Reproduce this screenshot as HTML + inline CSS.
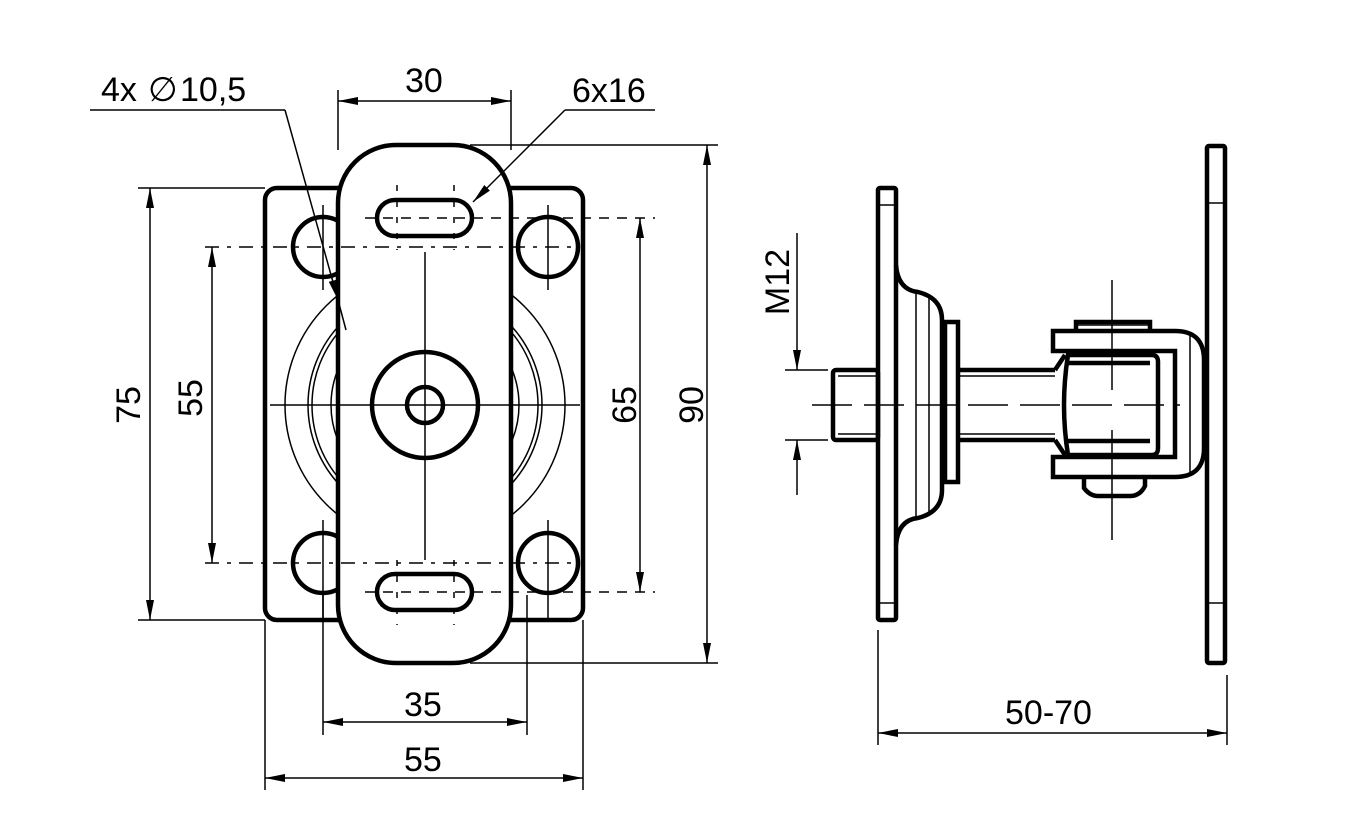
<!DOCTYPE html>
<html><head><meta charset="utf-8"><style>
html,body{margin:0;padding:0;background:#fff}
svg{display:block}
text{font-family:"Liberation Sans","DejaVu Sans",sans-serif;font-size:34px;fill:#000}
</style></head><body>
<svg width="1350" height="827" viewBox="0 0 1350 827" xmlns="http://www.w3.org/2000/svg">
<defs>
<marker id="a" viewBox="0 0 20 8" refX="20" refY="4" markerWidth="20" markerHeight="8" markerUnits="userSpaceOnUse" orient="auto-start-reverse"><path d="M0,0 L20,4 L0,8 z" fill="#000"/></marker>
</defs>
<g fill="none" stroke="#000">
<!-- LEFT VIEW -->
<!-- large circles behind -->
<g stroke-width="1.5">
<circle cx="425" cy="405" r="140"/>
<circle cx="425" cy="405" r="117"/>
<circle cx="425" cy="405" r="113"/>
<circle cx="425" cy="405" r="94"/>
</g>
<!-- base plate -->
<rect x="265" y="188" width="318" height="432" rx="12" fill="none" stroke-width="4.5"/>
<!-- holes -->
<g stroke-width="4.5" fill="#fff">
<circle cx="323" cy="247" r="30"/><circle cx="548" cy="247" r="30"/>
<circle cx="323" cy="563" r="30"/><circle cx="548" cy="563" r="30"/>
</g>
<!-- hole centerlines -->
<g stroke-width="1.5">
<line x1="323" y1="205" x2="323" y2="290"/><line x1="548" y1="205" x2="548" y2="290"/>
<line x1="323" y1="520" x2="323" y2="620"/><line x1="548" y1="520" x2="548" y2="620"/>
</g>
<!-- slot plate -->
<rect x="338" y="145" width="173" height="518" rx="58" fill="#fff" stroke-width="4.5"/>
<!-- slots -->
<rect x="377" y="200" width="95" height="36" rx="18" stroke-width="4.5"/>
<rect x="377" y="574" width="95" height="36" rx="18" stroke-width="4.5"/>
<!-- center circles -->
<circle cx="425" cy="405" r="53" stroke-width="4.5"/>
<circle cx="425" cy="405" r="18" stroke-width="4.5"/>
<!-- centerlines -->
<g stroke-width="1.5">
<line x1="270" y1="405" x2="580" y2="405"/>
<line x1="425" y1="252" x2="425" y2="560"/>
<line x1="205" y1="247" x2="575" y2="247" stroke-dasharray="14,8,4,8"/>
<line x1="205" y1="563" x2="575" y2="563" stroke-dasharray="14,8,4,8"/>
<line x1="365" y1="218" x2="655" y2="218" stroke-dasharray="10,8"/>
<line x1="365" y1="592" x2="655" y2="592" stroke-dasharray="10,8"/>
<line x1="397" y1="185" x2="397" y2="250" stroke-dasharray="6,10"/>
<line x1="454" y1="185" x2="454" y2="250" stroke-dasharray="6,10"/>
<line x1="397" y1="560" x2="397" y2="625" stroke-dasharray="6,10"/>
<line x1="454" y1="560" x2="454" y2="625" stroke-dasharray="6,10"/>
</g>
<!-- dimension lines -->
<g stroke-width="1.5">
<!-- 75 -->
<line x1="138" y1="188" x2="265" y2="188"/><line x1="138" y1="620" x2="265" y2="620"/>
<line x1="150" y1="188" x2="150" y2="620" marker-start="url(#a)" marker-end="url(#a)"/>
<!-- 55 vert -->
<line x1="212" y1="247" x2="212" y2="563" marker-start="url(#a)" marker-end="url(#a)"/>
<!-- 65 -->
<line x1="640" y1="218" x2="640" y2="592" marker-start="url(#a)" marker-end="url(#a)"/>
<!-- 90 -->
<line x1="470" y1="145" x2="718" y2="145"/><line x1="470" y1="663" x2="718" y2="663"/>
<line x1="707" y1="145" x2="707" y2="663" marker-start="url(#a)" marker-end="url(#a)"/>
<!-- 30 -->
<line x1="338" y1="90" x2="338" y2="150"/><line x1="511" y1="90" x2="511" y2="150"/>
<line x1="338" y1="101" x2="511" y2="101" marker-start="url(#a)" marker-end="url(#a)"/>
<!-- 35 -->
<line x1="323" y1="595" x2="323" y2="735"/><line x1="527" y1="595" x2="527" y2="735"/>
<line x1="323" y1="722" x2="527" y2="722" marker-start="url(#a)" marker-end="url(#a)"/>
<!-- 55 bottom -->
<line x1="265" y1="620" x2="265" y2="790"/><line x1="583" y1="620" x2="583" y2="790"/>
<line x1="265" y1="778" x2="583" y2="778" marker-start="url(#a)" marker-end="url(#a)"/>
<!-- leaders -->
<polyline points="655,110 565,110"/>
<line x1="565" y1="110" x2="473" y2="202" marker-end="url(#a)"/>
<line x1="90" y1="110" x2="285" y2="110"/>
<line x1="285" y1="110" x2="338" y2="300" marker-end="url(#a)"/>
<line x1="338" y1="300" x2="346" y2="330"/>
</g>

<!-- RIGHT VIEW -->
<g stroke-width="4.5">
<rect x="878" y="188" width="18" height="432" rx="2"/>
<path d="M896,265 Q898,290 918,292 Q942,298 942,320 L942,490 Q942,512 918,518 Q898,520 896,545"/>
<rect x="945" y="322" width="13" height="160"/>
<rect x="833" y="370" width="45" height="70" rx="3"/>
<line x1="958" y1="370" x2="1055" y2="370"/><line x1="958" y1="440" x2="1055" y2="440"/>
<rect x="1207" y="146" width="18" height="517" rx="2"/>
<!-- hinge -->
<path d="M1053,331 L1175,331 Q1204,331 1204,360 L1204,448 Q1204,477 1175,477 L1053,477 L1053,457 L1175,457 L1175,351 L1053,351 Z"/>
<path d="M1076,331 L1076,322 L1150,322 L1150,331"/>
<path d="M1084,477 L1084,488 Q1090,496 1098,496 L1130,496 Q1140,496 1145,486 L1145,477"/>
<path d="M1068,355 L1152,355 Q1158,355 1158,362 L1158,448 Q1158,455 1152,455 L1068,455 Q1060,405 1068,355 Z"/>
<line x1="1068" y1="363" x2="1150" y2="363"/><line x1="1068" y1="441" x2="1150" y2="441"/>
<path d="M1055,370 L1065,355 M1055,440 L1065,455"/>
</g>
<g stroke-width="1.5">
<line x1="896" y1="205" x2="878" y2="205"/><line x1="878" y1="603" x2="896" y2="603"/>
<line x1="1207" y1="203" x2="1225" y2="203"/><line x1="1207" y1="603" x2="1225" y2="603"/>
<line x1="916" y1="292" x2="916" y2="518"/><line x1="929" y1="295" x2="929" y2="515"/>
<line x1="838" y1="376" x2="878" y2="376"/><line x1="838" y1="434" x2="878" y2="434"/>
<line x1="958" y1="376" x2="1055" y2="376"/><line x1="958" y1="434" x2="1055" y2="434"/>
<line x1="1075" y1="325" x2="1150" y2="325"/>
<line x1="1190" y1="335" x2="1190" y2="473"/>
<line x1="1112" y1="280" x2="1112" y2="390"/><line x1="1112" y1="430" x2="1112" y2="540"/>
<line x1="812" y1="405" x2="1180" y2="405" stroke-dasharray="40,12"/>
<!-- M12 -->
<line x1="785" y1="370" x2="828" y2="370"/><line x1="785" y1="440" x2="828" y2="440"/>
<line x1="797" y1="233" x2="797" y2="370" marker-end="url(#a)"/>
<line x1="797" y1="495" x2="797" y2="440" marker-end="url(#a)"/>
<!-- 50-70 -->
<line x1="878" y1="630" x2="878" y2="745"/><line x1="1227" y1="675" x2="1227" y2="745"/>
<line x1="878" y1="733" x2="1227" y2="733" marker-start="url(#a)" marker-end="url(#a)"/>
</g>
</g>
<!-- text -->
<text x="101" y="101">4x</text>
<text x="148" y="101" font-size="36">∅</text>
<text x="180" y="101">10,5</text>
<text x="405" y="92">30</text>
<text x="572" y="102">6x16</text>
<text x="404" y="716">35</text>
<text x="404" y="771">55</text>
<text x="1005" y="724">50-70</text>
<text transform="translate(140,405) rotate(-90)" text-anchor="middle">75</text>
<text transform="translate(202,398) rotate(-90)" text-anchor="middle">55</text>
<text transform="translate(636,405) rotate(-90)" text-anchor="middle">65</text>
<text transform="translate(703,405) rotate(-90)" text-anchor="middle">90</text>
<text transform="translate(789,282) rotate(-90)" text-anchor="middle">M12</text>
</svg>
</body></html>
